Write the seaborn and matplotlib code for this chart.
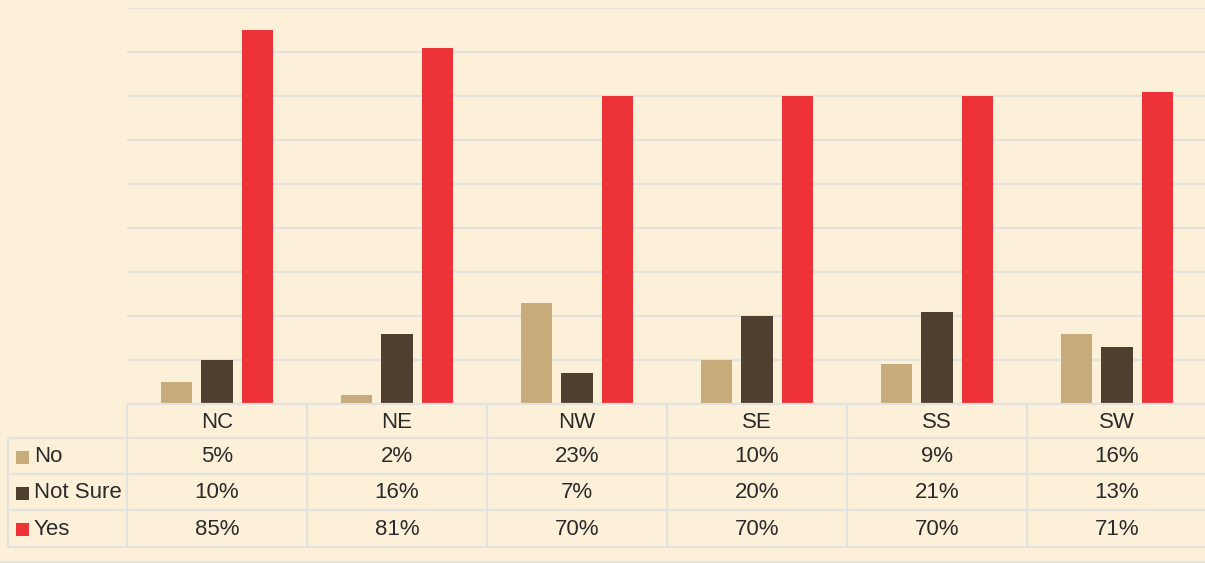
import matplotlib
matplotlib.use("Agg")
import matplotlib.pyplot as plt
import matplotlib.patches as mpatches
import matplotlib.lines as mlines
import seaborn as sns
import pandas as pd

regions = ["NC", "NE", "NW", "SE", "SS", "SW"]
responses = ["No", "Not Sure", "Yes"]
no_vals = [5, 2, 23, 10, 9, 16]
not_sure_vals = [10, 16, 7, 20, 21, 13]
yes_vals = [85, 81, 70, 70, 70, 71]

colors = {"No": "#C8AB7B", "Not Sure": "#4F3F2E", "Yes": "#EE3338"}
BG = "#FCF0D8"
GRID = "#E2E2DF"
TXT = "#2B2B2B"

series = {"No": no_vals, "Not Sure": not_sure_vals, "Yes": yes_vals}
rows = []
for resp in responses:
    for reg, v in zip(regions, series[resp]):
        rows.append({"Region": reg, "Response": resp, "Value": v})
df = pd.DataFrame(rows)

sns.set_style("white")
plt.rcParams["font.family"] = ["Liberation Sans", "DejaVu Sans"]

W, H = 1205, 563
fig = plt.figure(figsize=(W / 100, H / 100), dpi=100, facecolor=BG)

ax = fig.add_axes([127 / W, (H - 404) / H, 1080 / W, 396 / H])
ax.set_facecolor(BG)
sns.barplot(data=df, x="Region", y="Value", hue="Response", hue_order=responses,
            order=regions, palette=colors, width=0.667, gap=0.225, saturation=1,
            linewidth=0, legend=False, ax=ax, zorder=3)
ax.set_ylim(0, 90)
ax.set_xlim(-0.5, 5.5)
ax.set_yticks(range(0, 91, 10))
ax.set_yticklabels([])
ax.set_xticks([])
ax.set_xlabel("")
ax.set_ylabel("")
ax.tick_params(length=0)
ax.grid(axis="y", color=GRID, lw=1.5, zorder=0)
ax.set_axisbelow(True)
for s in ax.spines.values():
    s.set_visible(False)

# data table below
left = -0.5 - 119 / 180
tax = fig.add_axes([8 / W, (H - 547) / H, 1199 / W, 143 / H])
tax.set_xlim(left, 5.5)
tax.set_ylim(143, 0)
tax.axis("off")
tax.patch.set_alpha(0)

lkw = dict(color=GRID, lw=1.6, solid_capstyle="butt", clip_on=False)
tax.plot([-0.5, 5.5], [0, 0], **lkw)
for yb in [34, 70, 106, 143]:
    tax.plot([left, 5.5], [yb, yb], **lkw)
tax.plot([left, left], [34, 143], **lkw)
for i in range(7):
    tax.plot([i - 0.5, i - 0.5], [0, 143], **lkw)

fs = 16
for i, reg in enumerate(regions):
    tax.text(i, 18.5, reg, ha="center", va="center", fontsize=fs, color=TXT)
row_y = {"No": 53, "Not Sure": 89, "Yes": 125.5}
for resp in responses:
    y = row_y[resp]
    for i, v in enumerate(series[resp]):
        tax.text(i, y, f"{v}%", ha="center", va="center", fontsize=fs, color=TXT)
    x0 = (16 - 127) / 180 - 0.5
    tax.add_patch(mpatches.Rectangle((x0, y - 6.5), 13 / 180, 13,
                                     facecolor=colors[resp], edgecolor="none", clip_on=False))
    tax.text((34 - 127) / 180 - 0.5, y, resp, ha="left", va="center", fontsize=fs, color=TXT)

fig.add_artist(mlines.Line2D([0, 1], [1.5 / H, 1.5 / H], color=GRID, lw=1.6))

fig.savefig("out.png", dpi=100, facecolor=BG)
